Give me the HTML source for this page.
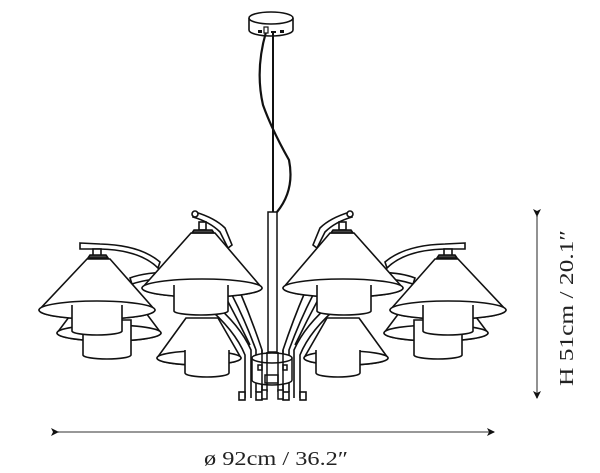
<!DOCTYPE html>
<html><head><style>
html,body{margin:0;padding:0;background:#fff;}
svg{display:block;}
text{font-family:"Liberation Serif",serif;fill:#222;}
</style></head><body>
<svg width="600" height="473" viewBox="0 0 600 473" xmlns="http://www.w3.org/2000/svg">
<defs>
<marker id="ar" markerWidth="8" markerHeight="8" refX="7" refY="4" orient="auto" markerUnits="userSpaceOnUse">
<path d="M0,0 L8,4 L0,8 L2,4 Z" fill="#111"/>
</marker>
<g id="half" fill="#fff" stroke="#111" stroke-width="1.6">
  <path d="M80,243 L100,244 Q140,245 160,262 L158,268 Q140,250 100,249 L80,249 Z"/>
  <path d="M130,278 Q145,272 175,272 L175,278 Q150,278 132,284 Z"/>
  <path d="M93,285 L57,333 A52,8 0 0 0 161,333 L125,285 Z"/>
  <ellipse cx="109" cy="333" rx="52" ry="8"/>
  <path d="M83,320 L83,355 A24,4 0 0 0 131,355 L131,320 Z"/>
  <rect x="93" y="249" width="8" height="8"/>
  <path d="M87,259 L110,259 L155,310 A58,9 0 0 1 39,310 Z"/>
  <path d="M88,258 L108,258 L106,255 L90,255 Z" fill="#444"/>
  <ellipse cx="97" cy="310" rx="58" ry="9"/>
  <path d="M72,305 L72,331 A25,4 0 0 0 122,331 L122,305"/>
  <path d="M205,305 Q235,330 245,355 L245,398 M212,302 Q240,325 251,350 L251,398" fill="none"/>
  <path d="M232,295 Q245,320 256,350 L256,370 M240,292 Q252,320 262,350 L262,360 M225,296 Q238,320 250,345" fill="none"/>
  <rect x="239" y="392" width="6" height="8"/>
  <rect x="256" y="392" width="6" height="8"/>
  <path d="M256,355 L256,392 M262,355 L262,392" fill="none"/>
  <path d="M186,318 L157,358 A42,7 0 0 0 241,358 L218,318 Z"/>
  <ellipse cx="199" cy="358" rx="42" ry="7"/>
  <path d="M185,350 L185,373 A22,4 0 0 0 229,373 L229,350"/>
  <path d="M195,212 Q215,218 225,228 L232,245 L228,248 L220,232 Q210,222 193,217 Z"/>
  <circle cx="195" cy="214" r="3"/>
  <rect x="199" y="222" width="7" height="8"/>
  <path d="M191,233 L215,233 L262,288 A60,9 0 0 1 142,288 Z"/>
  <path d="M192,233 L214,233 L212,230 L194,230 Z" fill="#444"/>
  <ellipse cx="202" cy="288" rx="60" ry="9"/>
  <path d="M174,285 L174,311 A27,4 0 0 0 228,311 L228,285"/>
</g>
</defs>
<g fill="#fff" stroke="#111" stroke-width="1.6">
  <path d="M249,18 L249,30 A22,6 0 0 0 293,30 L293,18"/>
  <ellipse cx="271" cy="18" rx="22" ry="6"/>
</g>
<rect x="258" y="30" width="4" height="3" fill="#111"/>
<rect x="280" y="30" width="4" height="3" fill="#111"/>
<rect x="271" y="31" width="5" height="2" fill="#111"/>
<line x1="273" y1="32" x2="273" y2="212" stroke="#111" stroke-width="2"/>
<path d="M266,32 Q255,70 263,105 Q272,130 289,160 Q295,190 277,212" fill="none" stroke="#111" stroke-width="2.2"/>
<rect x="264" y="27" width="4" height="6" fill="#fff" stroke="#111" stroke-width="1.2"/>
<rect x="268" y="212" width="9" height="140" fill="#fff" stroke="#111" stroke-width="1.5"/>
<use href="#half"/>
<use href="#half" transform="translate(545,0) scale(-1,1)"/>
<g fill="#fff" stroke="#111" stroke-width="1.5">
  <path d="M252,358 L252,380 A20,5 0 0 0 292,380 L292,358"/>
  <ellipse cx="272" cy="358" rx="20" ry="5"/>
  <rect x="265" y="375" width="13" height="8"/>
  <rect x="258" y="365" width="4" height="5"/>
  <rect x="283" y="365" width="4" height="5"/>
  <path d="M262,350 L262,392 M267,352 L267,392 M278,352 L278,392 M283,350 L283,392"/>
  <rect x="262" y="390" width="5" height="9"/>
  <rect x="278" y="390" width="5" height="9"/>
</g>
<line x1="58" y1="432" x2="494" y2="432" stroke="#777" stroke-width="1.6" marker-start="url(#ar)" marker-end="url(#ar)"/>
<text x="204" y="465" font-size="20" textLength="144" lengthAdjust="spacingAndGlyphs">ø 92cm / 36.2″</text>
<line x1="537" y1="216" x2="537" y2="398" stroke="#777" stroke-width="1.6" marker-start="url(#ar)" marker-end="url(#ar)"/>
<text transform="translate(573,386) rotate(-90)" font-size="20" textLength="156" lengthAdjust="spacingAndGlyphs">H 51cm / 20.1″</text>
</svg>
</body></html>
